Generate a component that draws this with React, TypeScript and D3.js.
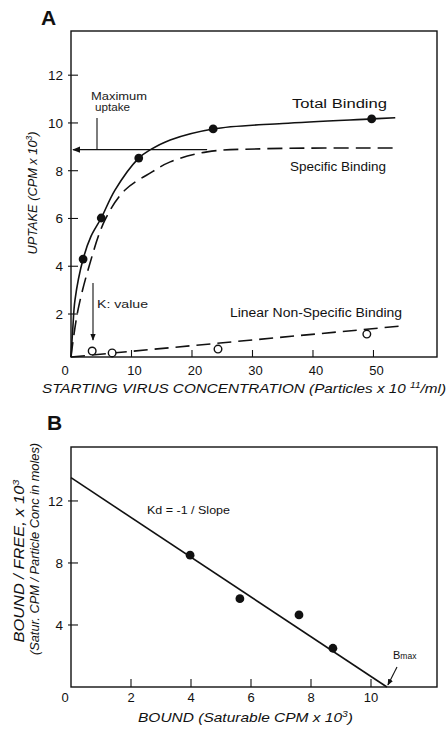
import React from "react";
import * as d3 from "d3";

// ---------- Panel A data ----------
const totalPoints: [number, number][] = [
  [2.0, 4.3], [5.0, 6.02], [11.2, 8.53], [23.5, 9.75], [49.7, 10.17],
];
const nonSpecificPoints: [number, number][] = [
  [3.5, 0.45], [6.8, 0.37], [24.3, 0.53], [48.9, 1.16],
];
const totalCurve: [number, number][] = [
  [0, 0.2], [0.3, 1.4], [0.66, 2.59], [2.0, 4.3], [3.3, 5.25], [5.0, 6.02],
  [7.27, 7.19], [11.2, 8.53], [13.06, 8.87], [16.4, 9.29], [23.5, 9.75],
  [35, 9.98], [49.7, 10.17], [53.6, 10.22],
];
const specificCurve: [number, number][] = [
  [0, 0.2], [0.3, 0.8], [1.16, 2.17], [2.81, 3.84], [5.62, 5.94], [8.93, 7.19],
  [13.4, 7.95], [16.4, 8.37], [22.5, 8.79], [32, 8.92], [54.0, 8.95],
];
const nonSpecificLine: [number, number][] = [[0, 0.2], [54.7, 1.5]];
const maxUptake = 8.88;
const maxUptakeEnd = 22.5;
const xTicksA = [0, 10, 20, 30, 40, 50];
const yTicksA = [2, 4, 6, 8, 10, 12];

// ---------- Panel B data ----------
const scatchardPoints: [number, number][] = [
  [3.97, 8.5], [5.63, 5.7], [7.6, 4.65], [8.73, 2.5],
];
const scatchardLine: [number, number][] = [[0, 13.5], [10.53, 0]];
const xTicksB = [0, 2, 4, 6, 8, 10];
const yTicksB = [4, 8, 12];

const FONT = "'Liberation Sans', Arial, sans-serif";

export default function App() {
  // Panel A scales
  const xA = d3.scaleLinear().domain([0, 60.5]).range([71, 437]);
  const yA = d3.scaleLinear().domain([0.2, 13.85]).range([357, 31]);
  // Panel B scales
  const xB = d3.scaleLinear().domain([0, 12.2]).range([71, 437]);
  const yB = d3.scaleLinear().domain([0, 15.48]).range([687, 447]);

  const lineA = d3.line<[number, number]>().x((d) => xA(d[0])).y((d) => yA(d[1]));
  const curveA = d3
    .line<[number, number]>()
    .x((d) => xA(d[0]))
    .y((d) => yA(d[1]))
    .curve(d3.curveCatmullRom.alpha(0.5));
  const lineB = d3.line<[number, number]>().x((d) => xB(d[0])).y((d) => yB(d[1]));

  const sw = 1.6;

  return (
    <svg width={448} height={730} style={{ position: "absolute", left: 0, top: 0, background: "#fff" }}>
      <defs>
        <marker id="arr" viewBox="0 0 10 10" refX="9" refY="5" markerWidth="6" markerHeight="6" orient="auto-start-reverse">
          <path d="M0,1 L10,5 L0,9 z" fill="#111" />
        </marker>
      </defs>

      {/* ================= Panel A ================= */}
      <text x={41} y={25} fontFamily={FONT} fontWeight="bold" fontSize={21} fill="#111">A</text>
      <rect x={xA(0)} y={yA(13.85)} width={xA(60.5) - xA(0)} height={yA(0.2) - yA(13.85)} fill="none" stroke="#111" strokeWidth={1.4} />

      {yTicksA.map((t) => (
        <g key={"ya" + t}>
          <line x1={xA(0) - 3} x2={xA(0) + 7} y1={yA(t)} y2={yA(t)} stroke="#111" strokeWidth={1.1} />
          <text x={63} y={yA(t) + 5} textAnchor="end" fontFamily={FONT} fontSize={13.5} fill="#111">{t}</text>
        </g>
      ))}
      {xTicksA.map((t) => (
        <g key={"xa" + t}>
          {t > 0 && <line x1={xA(t)} x2={xA(t)} y1={yA(0.2)} y2={yA(0.2) - 7} stroke="#111" strokeWidth={1.1} />}
          <text x={t === 0 ? xA(t) - 6 : xA(t) + 3} y={375} textAnchor="middle" fontFamily={FONT} fontSize={13} fill="#111">{t}</text>
        </g>
      ))}

      {/* curves */}
      <path d={curveA(totalCurve) || ""} fill="none" stroke="#111" strokeWidth={sw} />
      <path d={curveA(specificCurve) || ""} fill="none" stroke="#111" strokeWidth={sw} strokeDasharray="15,7" />
      <path d={lineA(nonSpecificLine) || ""} fill="none" stroke="#111" strokeWidth={sw} strokeDasharray="14,7" />
      {/* maximum uptake line */}
      <line x1={xA(maxUptakeEnd)} x2={xA(0) + 2} y1={yA(maxUptake)} y2={yA(maxUptake)} stroke="#111" strokeWidth={1.3} markerEnd="url(#arr)" />
      <line x1={97} x2={97} y1={118} y2={yA(maxUptake)} stroke="#111" strokeWidth={1.1} />
      <text x={91} y={100} fontFamily={FONT} fontSize={10} textLength={56} lengthAdjust="spacingAndGlyphs" fill="#222">Maximum</text>
      <text x={95} y={111} fontFamily={FONT} fontSize={10} textLength={35} lengthAdjust="spacingAndGlyphs" fill="#222">uptake</text>

      {/* Kd arrow */}
      <line x1={93} x2={93} y1={283} y2={340} stroke="#111" strokeWidth={1.1} markerEnd="url(#arr)" />
      <text x={97} y={308} fontFamily={FONT} fontSize={11} textLength={51} lengthAdjust="spacingAndGlyphs" fill="#222">K: value</text>

      {totalPoints.map((d, i) => (
        <circle key={"tp" + i} cx={xA(d[0])} cy={yA(d[1])} r={4.4} fill="#111" />
      ))}
      {nonSpecificPoints.map((d, i) => (
        <circle key={"np" + i} cx={xA(d[0])} cy={yA(d[1])} r={3.8} fill="#fff" stroke="#111" strokeWidth={1.4} />
      ))}

      <text x={292} y={108} fontFamily={FONT} fontSize={12.5} textLength={95} lengthAdjust="spacingAndGlyphs" fill="#111">Total Binding</text>
      <text x={290} y={171} fontFamily={FONT} fontSize={12.5} textLength={96} lengthAdjust="spacingAndGlyphs" fill="#111">Specific Binding</text>
      <text x={230} y={317} fontFamily={FONT} fontSize={12.5} textLength={172} lengthAdjust="spacingAndGlyphs" fill="#111">Linear Non-Specific Binding</text>

      <text transform="translate(37,193) rotate(-90)" textAnchor="middle" fontFamily={FONT} fontStyle="italic" fontSize={13.5} textLength={123} lengthAdjust="spacingAndGlyphs" fill="#111">
        UPTAKE (CPM x 10<tspan fontSize={9} dy={-5}>3</tspan><tspan dy={5}>)</tspan>
      </text>
      <text x={42} y={393} fontFamily={FONT} fontStyle="italic" fontSize={13.5} textLength={404} lengthAdjust="spacingAndGlyphs" fill="#111">
        STARTING VIRUS CONCENTRATION (Particles x 10 <tspan fontSize={9} dy={-5}>11</tspan><tspan dy={5}>/ml)</tspan>
      </text>

      {/* ================= Panel B ================= */}
      <text x={47} y={430} fontFamily={FONT} fontWeight="bold" fontSize={21} fill="#111">B</text>
      <rect x={xB(0)} y={yB(15.48)} width={xB(12.2) - xB(0)} height={yB(0) - yB(15.48)} fill="none" stroke="#111" strokeWidth={1.4} />

      {yTicksB.map((t) => (
        <g key={"yb" + t}>
          <line x1={xB(0) - 3} x2={xB(0) + 7} y1={yB(t)} y2={yB(t)} stroke="#111" strokeWidth={1.1} />
          <text x={63} y={yB(t) + 5} textAnchor="end" fontFamily={FONT} fontSize={13.5} fill="#111">{t}</text>
        </g>
      ))}
      {xTicksB.map((t) => (
        <g key={"xb" + t}>
          {t > 0 && <line x1={xB(t)} x2={xB(t)} y1={yB(0)} y2={yB(0) - 8} stroke="#111" strokeWidth={1.1} />}
          <text x={t === 0 ? xB(t) - 6 : xB(t)} y={702} textAnchor="middle" fontFamily={FONT} fontSize={13} fill="#111">{t}</text>
        </g>
      ))}

      <path d={lineB(scatchardLine) || ""} fill="none" stroke="#111" strokeWidth={sw} />
      {scatchardPoints.map((d, i) => (
        <circle key={"sp" + i} cx={xB(d[0])} cy={yB(d[1])} r={4.4} fill="#111" />
      ))}

      <text x={147} y={514} fontFamily={FONT} fontSize={11.5} textLength={83} lengthAdjust="spacingAndGlyphs" fill="#111">Kd = -1 / Slope</text>

      <line x1={397} x2={xB(10.53) + 1} y1={667} y2={yB(0) - 2} stroke="#111" strokeWidth={1.1} markerEnd="url(#arr)" />
      <text x={393} y={659} fontFamily={FONT} fontSize={11} fill="#111">
        B<tspan fontSize={8.5}>max</tspan>
      </text>

      <text transform="translate(24,561) rotate(-90)" textAnchor="middle" fontFamily={FONT} fontStyle="italic" fontSize={14} textLength={163} lengthAdjust="spacingAndGlyphs" fill="#111">
        BOUND / FREE, x 10<tspan fontSize={9.5} dy={-5}>3</tspan>
      </text>
      <text transform="translate(39,549) rotate(-90)" textAnchor="middle" fontFamily={FONT} fontStyle="italic" fontSize={12.8} fill="#111">
        {"(Satur. CPM / Particle Conc in moles)"}
      </text>
      <text x={138} y={722} fontFamily={FONT} fontStyle="italic" fontSize={13.5} textLength={215} lengthAdjust="spacingAndGlyphs" fill="#111">
        BOUND (Saturable CPM x 10<tspan fontSize={9} dy={-5}>3</tspan><tspan dy={5}>)</tspan>
      </text>
    </svg>
  );
}
